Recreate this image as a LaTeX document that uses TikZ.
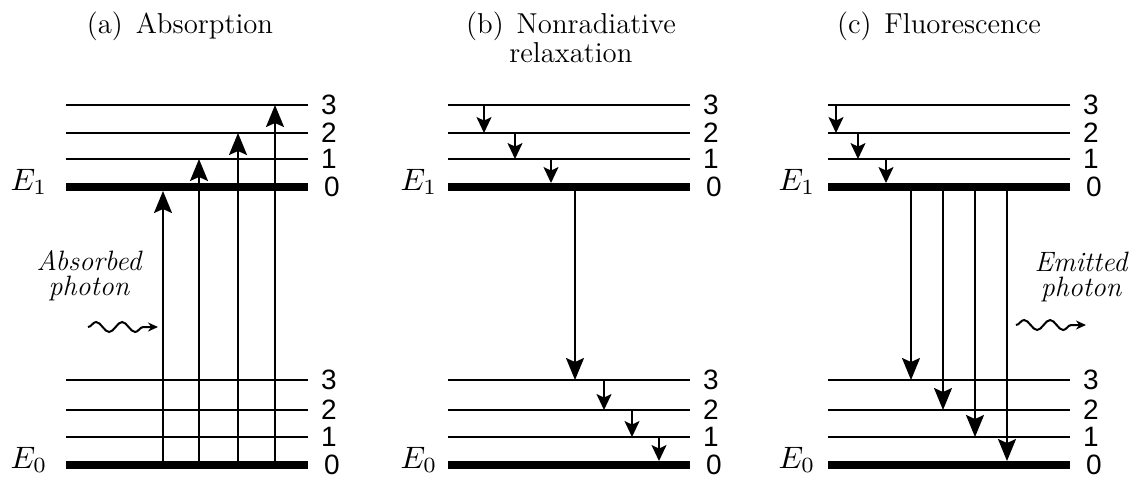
\documentclass[tikz,border=0pt]{standalone}
\usepackage{fontspec}
\newfontfamily\levelfont{Liberation Sans}
\usetikzlibrary{arrows.meta,positioning,calc,decorations.pathmorphing}

\begin{document}
\begin{tikzpicture}[x=0.5pt, y=-0.5pt,
  title/.style={inner sep=0pt, anchor=north, align=center, font=\fontsize{14.4}{14.5}\selectfont},
  note/.style={inner sep=0pt, anchor=north, align=center, font=\fontsize{14}{12.5}\selectfont\itshape},
  elab/.style={inner sep=0pt, anchor=base east, scale=1.55},
  num/.style={inner sep=0pt, anchor=west, xshift=6pt, font=\fontsize{14}{16}\selectfont\levelfont},
  big/.style={line width=1pt, -{Stealth[length=11pt, width=9pt, inset=2pt]}},
  small/.style={line width=1pt, -{Stealth[length=8pt, width=7.5pt, inset=1.8pt]}},
  wave/.style={line width=1pt, -{Stealth[length=5pt, width=4.5pt]}, decorate,
    decoration={snake, amplitude=2.5pt, segment length=13pt, post length=4pt}}]
  \useasboundingbox (0,0) rectangle (1136,484);

  % titles
  \node[title] (ta) at (180,11) {(a)\hspace{0.45em}Absorption};
  \node[title] (tb) at (571,11) {(b)\hspace{0.45em}Nonradiative\\relaxation};
  \node[title] (tc) at (939,11) {(c)\hspace{0.45em}Fluorescence};

  % vibrational levels of E1 and E0
  \foreach \p/\x in {a/66, b/448, c/828}{
    \foreach \n/\y/\w in {0/187/4pt, 1/159/1pt, 2/133/1pt, 3/105/1pt}
      \draw[line width=\w] (\x,\y) coordinate (\p-up\n) -- ++(242,0) node[num] (\p-upnum\n) {\n};
    \foreach \n/\y/\w in {0/465/4pt, 1/437/1pt, 2/410/1pt, 3/380/1pt}
      \draw[line width=\w] (\x,\y) coordinate (\p-lo\n) -- ++(242,0) node[num] (\p-lonum\n) {\n};
  }
  \node[elab] (a-E1) at (48,190) {$E_1$};
  \node[elab] (a-E0) at (48,468) {$E_0$};
  \node[elab] (b-E1) at (438,190) {$E_1$};
  \node[elab] (b-E0) at (438,468) {$E_0$};
  \node[elab] (c-E1) at (816,190) {$E_1$};
  \node[elab] (c-E0) at (816,468) {$E_0$};

  % (a) absorption
  \draw[big] ($(a-lo0)+(97,0)$) -- ($(a-up0)+(97,4)$);
  \foreach \d/\n in {133/1, 172/2, 209/3}
    \draw[big] ($(a-lo0)+(\d,0)$) -- ($(a-up\n)+(\d,0)$);
  \node[note] (absorbed) at (89,250) {Absorbed\\photon};
  \coordinate (wa-s) at (88,327);
  \coordinate (wa-e) at (158,327);
  \draw[wave] (wa-s) -- (wa-e);

  % (b) nonradiative relaxation
  \draw[small] ($(b-up3)+(36,0)$) -- ($(b-up2)+(36,0)$);
  \draw[small] ($(b-up2)+(67,0)$) -- ($(b-up1)+(67,0)$);
  \draw[small] ($(b-up1)+(103,0)$) -- ($(b-up0)+(103,-4)$);
  \draw[big] ($(b-up0)+(127,0)$) -- ($(b-lo3)+(127,0)$);
  \draw[small] ($(b-lo3)+(156,0)$) -- ($(b-lo2)+(156,0)$);
  \draw[small] ($(b-lo2)+(184,0)$) -- ($(b-lo1)+(184,0)$);
  \draw[small] ($(b-lo1)+(211,0)$) -- ($(b-lo0)+(211,-4)$);

  % (c) fluorescence
  \draw[small] ($(c-up3)+(8,0)$) -- ($(c-up2)+(8,0)$);
  \draw[small] ($(c-up2)+(30,0)$) -- ($(c-up1)+(30,0)$);
  \draw[small] ($(c-up1)+(58,0)$) -- ($(c-up0)+(58,-4)$);
  \foreach \d/\n in {83/3, 115/2, 147/1}
    \draw[big] ($(c-up0)+(\d,0)$) -- ($(c-lo\n)+(\d,0)$);
  \draw[big] ($(c-up0)+(179,0)$) -- ($(c-lo0)+(179,-4)$);
  \node[note] (emitted) at (1081,252) {Emitted\\photon};
  \coordinate (we-s) at (1016,325);
  \coordinate (we-e) at (1086,325);
  \draw[wave] (we-s) -- (we-e);
\end{tikzpicture}
\end{document}
